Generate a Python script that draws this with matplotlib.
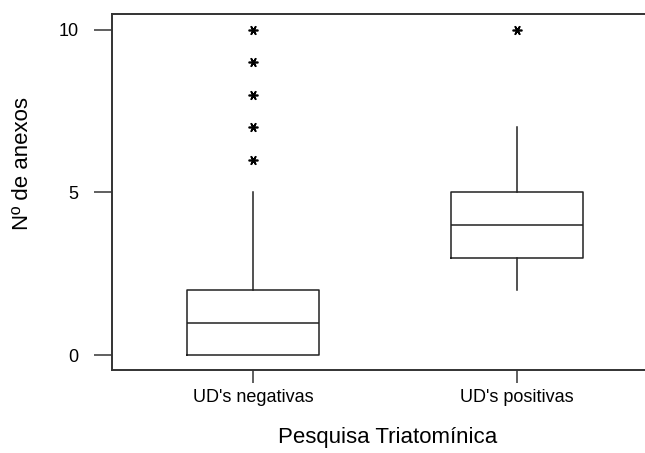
import matplotlib
matplotlib.use("Agg")
import matplotlib.pyplot as plt

plt.rcParams['font.family'] = ['Liberation Sans', 'DejaVu Sans']

groups = ["UD's negativas", "UD's positivas"]
q1 = [0, 3]
medians = [1, 4]
q3 = [2, 5]
whislo = [0, 2]
whishi = [5, 7]
outliers = [[6, 7, 8, 9, 10], [10]]

stats = []
for i in range(len(groups)):
    stats.append(dict(label=groups[i], q1=q1[i], med=medians[i], q3=q3[i],
                      whislo=whislo[i], whishi=whishi[i], fliers=outliers[i]))

fig = plt.figure(figsize=(6.45, 4.53), dpi=100)
ax = fig.add_axes([112 / 645, 1 - 370 / 453, 1 - 112 / 645, (370 - 14) / 453])

ax.bxp(stats, positions=[1, 2], widths=0.5, showcaps=False,
       boxprops=dict(color="#222222", linewidth=1.1),
       medianprops=dict(color="#222222", linewidth=1.1),
       whiskerprops=dict(color="#222222", linewidth=1.1),
       flierprops=dict(marker=(6, 2, 90), markersize=7, markeredgewidth=1.2,
                       markeredgecolor="black", linestyle="none"))

ax.set_xlim(0.466, 2.485)
ax.set_ylim(-0.46, 10.49)
ax.set_yticks([0, 5, 10])
ax.spines['right'].set_visible(False)
for s in ['left', 'top', 'bottom']:
    ax.spines[s].set_linewidth(1.4)
    ax.spines[s].set_color("#333333")
ax.tick_params(axis='y', length=13, width=1.2, color="#444444", labelsize=13, pad=11)
ax.tick_params(axis='x', length=9, width=1.2, color="#444444", labelsize=13, pad=5)

ax.set_xlabel("Pesquisa Triatomínica", fontsize=16, va='center')
ax.set_ylabel("Nº de anexos", fontsize=16, va='center')
ax.xaxis.set_label_coords((388 - 112) / 533, -(438 - 370) / 356)
ax.yaxis.set_label_coords(-(112 - 23) / 533, (370 - 163) / 356)

fig.savefig("out.png", dpi=100)
